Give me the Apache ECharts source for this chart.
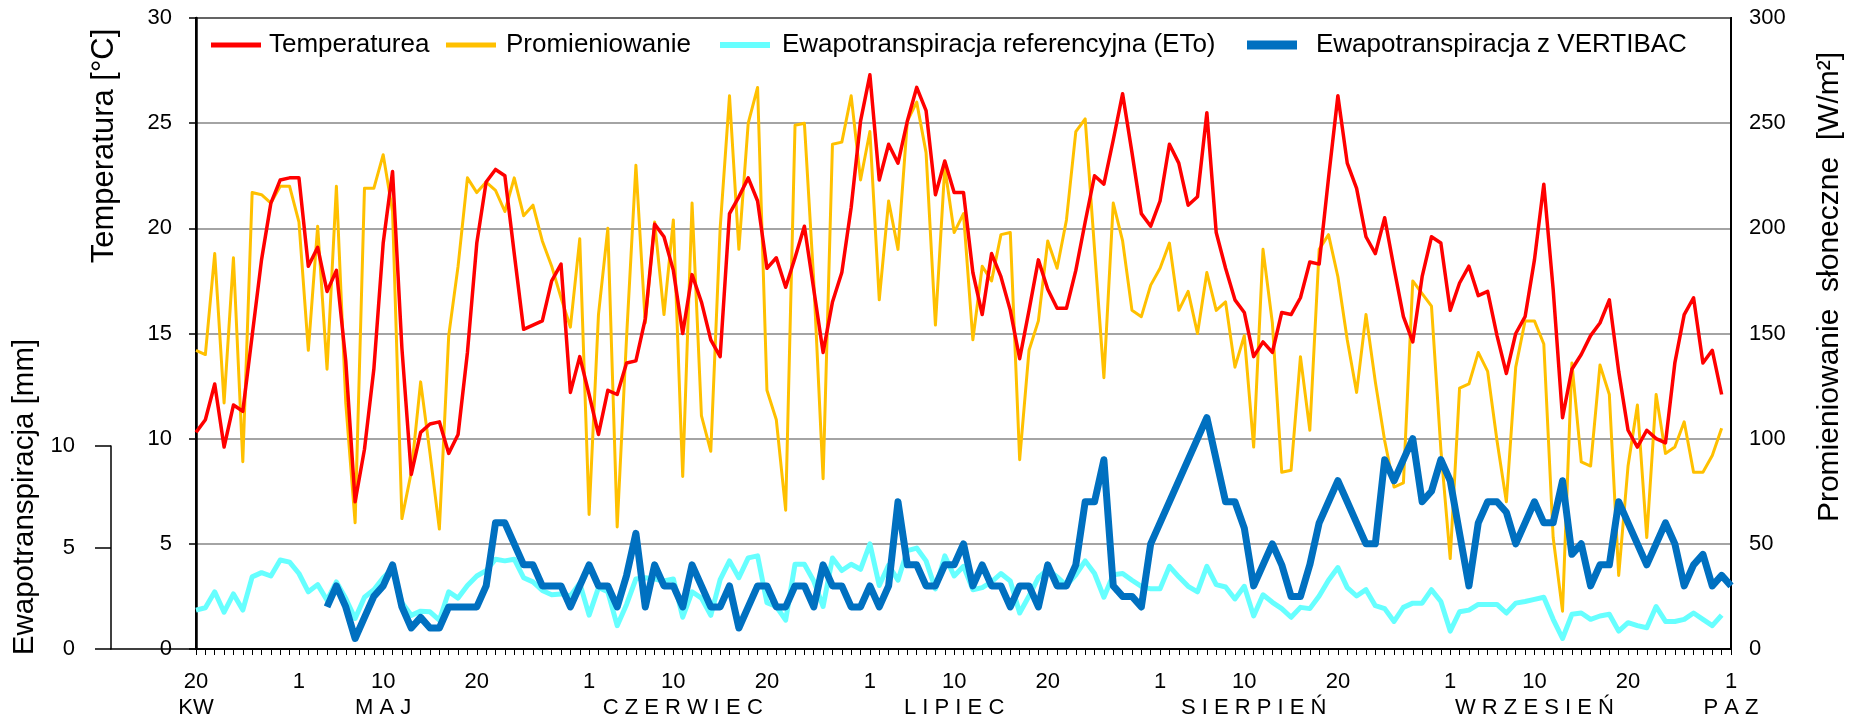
<!DOCTYPE html>
<html>
<head>
<meta charset="utf-8">
<script src="https://cdn.jsdelivr.net/npm/echarts@6/dist/echarts.min.js"></script>
<style>
html,body{margin:0;padding:0;background:#fff;}
#chart{width:1857px;height:724px;}
</style>
</head>
<body>
<div id="chart"></div>
<script>
// ---- DATA ----
// months covered: [month, first day, last day]
const monthSpans = [['04',20,30],['05',1,31],['06',1,30],['07',1,31],['08',1,31],['09',1,30],['10',1,1]];
const dayTickLabels = [1, 10, 20];
const monthNames = ['KW', 'M A J', 'C Z E R W I E C', 'L I P I E C', 'S I E R P I E Ń', 'W R Z E S I E Ń', 'P A Z'];
const monthLabelIndex = [0, 20, 52, 81, 113, 143, 164];
const seriesNames = ['Temperaturea', 'Promieniowanie', 'Ewapotranspiracja referencyjna (ETo)', 'Ewapotranspiracja z VERTIBAC'];

// Temperature [°C], daily from 20 Apr
const temperature = [
 10.3,10.9,12.6,9.6,11.6,11.3,14.9,18.5,21.2,22.3,
 22.4,22.4,18.2,19.1,17.0,18.0,13.7,7.0,9.5,13.3,
 19.3,22.7,14.3,8.3,10.3,10.7,10.8,9.3,10.2,14.1,
 19.3,22.2,22.8,22.5,18.8,15.2,15.4,15.6,17.5,18.3,
 12.2,13.9,12.1,10.2,12.3,12.1,13.6,13.7,15.7,20.2,
 19.6,18.0,15.0,17.8,16.5,14.7,13.9,20.7,21.5,22.4,
 21.3,18.1,18.6,17.2,18.6,20.1,17.1,14.1,16.5,17.9,
 21.0,25.1,27.3,22.3,24.0,23.1,25.1,26.7,25.6,21.6,
 23.2,21.7,21.7,17.9,15.9,18.8,17.7,16.1,13.8,16.1,
 18.5,17.1,16.2,16.2,18.0,20.3,22.5,22.1,24.2,26.4,
 23.6,20.7,20.1,21.3,24.0,23.1,21.1,21.5,25.5,19.8,
 18.1,16.6,16.0,13.9,14.6,14.1,16.0,15.9,16.7,18.4,
 18.3,22.4,26.3,23.1,21.9,19.6,18.8,20.5,18.1,15.8,
 14.6,17.7,19.6,19.3,16.1,17.4,18.2,16.8,17.0,14.9,
 13.1,15.0,15.8,18.5,22.1,17.1,11.0,13.3,14.0,14.9,
 15.5,16.6,13.2,10.4,9.6,10.4,10.0,9.8,13.6,15.9,
 16.7,13.6,14.2,12.1
];
// Solar radiation [W/m2]
const radiation = [
 142,140,188,117,186,89,217,216,212,220,
 220,203,142,201,133,220,117,60,219,219,
 235,208,62,84,127,93,57,149,182,224,
 217,222,218,208,224,206,211,194,182,167,
 153,195,64,159,200,58,148,230,155,203,
 159,204,82,212,111,94,200,263,190,250,
 267,123,109,66,249,250,175,81,240,241,
 263,223,246,166,213,190,251,260,236,154,
 229,198,207,147,182,175,197,198,90,142,
 156,194,181,204,246,252,190,129,212,194,
 161,158,173,181,193,161,170,150,179,161,
 165,134,149,96,190,155,84,85,139,104,
 190,197,177,147,122,159,127,99,77,79,
 175,169,163,95,43,124,126,141,132,99,
 70,134,156,156,145,53,18,136,89,87,
 135,121,35,87,116,53,121,93,96,108,
 84,84,92,105
];
// Reference evapotranspiration ETo [mm]
const eto = [
 1.85,1.96,2.72,1.75,2.62,1.85,3.43,3.63,3.47,4.23,
 4.13,3.59,2.72,3.06,2.32,3.19,2.4,1.45,2.46,2.82,
 3.39,3.83,2.2,1.6,1.8,1.77,1.37,2.72,2.42,3.02,
 3.47,3.73,4.27,4.19,4.27,3.39,3.19,2.78,2.58,2.62,
 2.52,3.13,1.61,2.92,2.72,1.11,2.12,3.33,3.39,3.33,
 3.23,3.33,1.51,2.72,2.42,1.6,3.3,4.19,3.39,4.33,
 4.43,2.2,2.02,1.37,4.03,4.03,3.23,2.02,4.33,3.73,
 4.03,3.79,5.0,3.02,3.99,3.27,4.68,4.8,4.19,2.86,
 4.43,3.47,3.93,2.82,2.92,3.19,3.59,3.23,1.71,2.52,
 3.39,3.79,3.43,3.02,3.53,4.19,3.59,2.46,3.53,3.59,
 3.27,2.98,2.86,2.86,3.93,3.43,2.98,2.72,3.93,3.06,
 2.95,2.38,2.98,1.57,2.58,2.22,1.92,1.51,1.98,1.92,
 2.52,3.27,3.87,2.92,2.52,2.82,2.06,1.92,1.31,1.98,
 2.18,2.18,2.82,2.26,0.85,1.77,1.85,2.12,2.12,2.12,
 1.71,2.18,2.26,2.36,2.46,1.41,0.5,1.65,1.71,1.41,
 1.57,1.65,0.85,1.25,1.11,1.01,2.02,1.31,1.31,1.41,
 1.71,1.41,1.11,1.61
];
// Evapotranspiration measured with VERTIBAC [mm]
const vertibac = [
 null,null,null,null,null,null,null,null,null,null,
 null,null,null,null,2,3,2,0.5,1.5,2.5,
 3,4,2,1,1.5,1,1,2,2,2,
 2,3,6,6,5,4,4,3,3,3,
 2,3,4,3,3,2,3.5,5.5,2,4,
 3,3,2,4,3,2,2,3,1,2,
 3,3,2,2,3,3,2,4,3,3,
 2,2,3,2,3,7,4,4,3,3,
 4,4,5,3,4,3,3,2,3,3,
 2,4,3,3,4,7,7,9,3,2.5,
 2.5,2,5,null,null,null,null,null,11,null,
 7,7,5.75,3,4,5,4,2.5,2.5,4,
 6,7,8,7,6,5,5,9,8,9,
 10,7,7.5,9,8,5.5,3,6,7,7,
 6.5,5,6,7,6,6,8,4.5,5,3,
 4,4,7,6,5,4,5,6,5,3,
 4,4.5,3,3.5,3
];

// ---- build categories ----
const categories = [];
monthSpans.forEach(([m, a, b]) => { for (let d = a; d <= b; d++) categories.push(d + '.' + m); });
const dayOf = v => parseInt(String(v).split('.')[0], 10);

const FONT = '"Liberation Sans", Arial, sans-serif';
const chart = echarts.init(document.getElementById('chart'), null, {renderer: 'canvas'});

function legendAt(name, left, h, pad) {
  return {
    data: [name], left: left, top: 32, padding: 0, icon: 'rect',
    itemWidth: 50, itemHeight: h, itemGap: 0,
    textStyle: {fontFamily: FONT, fontSize: 26, color: '#000', padding: [0, 0, 0, pad]}
  };
}
function vText(text, x, y, size) {
  return {type: 'text', x: x, y: y, rotation: Math.PI / 2,
    style: {text: text, fontSize: size, fontFamily: FONT, fill: '#000', align: 'center', verticalAlign: 'middle', textAlign: 'center', textVerticalAlign: 'middle'}};
}

const option = {
  animation: false,
  backgroundColor: '#fff',
  textStyle: {fontFamily: FONT},
  grid: [
    {left: 196, right: 126, top: 18, bottom: 75, show: true, borderColor: '#000', borderWidth: 2, backgroundColor: 'transparent'},
    {left: 111, width: 85, top: 446, height: 203}
  ],
  legend: [
    legendAt(seriesNames[0], 211, 5, 3),
    legendAt(seriesNames[1], 446, 5, 5),
    legendAt(seriesNames[2], 720, 6, 7),
    legendAt(seriesNames[3], 1247, 9, 14)
  ],
  xAxis: [
    {
      type: 'category', gridIndex: 0, data: categories, boundaryGap: false,
      axisLine: {lineStyle: {color: '#000', width: 2}},
      axisTick: {show: true, interval: 0, length: 6, lineStyle: {color: '#000', width: 1}},
      axisLabel: {
        interval: (i, v) => dayTickLabels.indexOf(dayOf(v)) >= 0,
        formatter: v => String(dayOf(v)),
        fontSize: 22, color: '#000', margin: 22, fontFamily: FONT
      },
      splitLine: {show: false}
    },
    {
      type: 'category', gridIndex: 0, data: categories, boundaryGap: false, position: 'bottom',
      axisLine: {show: false}, axisTick: {show: false}, splitLine: {show: false},
      axisLabel: {
        interval: (i) => monthLabelIndex.indexOf(i) >= 0,
        formatter: (v, i) => { const k = monthLabelIndex.indexOf(i); return k >= 0 ? monthNames[k] : ''; },
        fontSize: 22, color: '#000', margin: 48, fontFamily: FONT
      }
    },
    {
      type: 'value', gridIndex: 1, min: 0, max: 1,
      axisLine: {show: true, lineStyle: {color: '#000', width: 1.5}},
      axisTick: {show: false}, axisLabel: {show: false}, splitLine: {show: false}
    }
  ],
  yAxis: [
    {
      type: 'value', gridIndex: 0, min: 0, max: 30, interval: 5, position: 'left',
      axisLine: {show: true, lineStyle: {color: '#000', width: 2.5}},
      axisTick: {show: true, length: 7, lineStyle: {color: '#000', width: 1.5}},
      axisLabel: {fontSize: 22, color: '#000', margin: 24, fontFamily: FONT},
      splitLine: {show: true, lineStyle: {color: '#868686', width: 1.5}}
    },
    {
      type: 'value', gridIndex: 0, min: 0, max: 300, interval: 50, position: 'right',
      axisLine: {show: true, lineStyle: {color: '#000', width: 2}},
      axisTick: {show: false},
      axisLabel: {fontSize: 22, color: '#000', margin: 18, fontFamily: FONT},
      splitLine: {show: false}
    },
    {
      type: 'value', gridIndex: 1, min: 0, max: 10, interval: 5, position: 'left',
      axisLine: {show: true, lineStyle: {color: '#000', width: 1.5}},
      axisTick: {show: true, length: 16, lineStyle: {color: '#000', width: 1.5}},
      axisLabel: {fontSize: 22, color: '#000', margin: 36, fontFamily: FONT},
      splitLine: {show: false}
    }
  ],
  series: [
    {name: seriesNames[1], type: 'line', xAxisIndex: 0, yAxisIndex: 1, data: radiation, symbol: 'none',
     color: '#FFC000', lineStyle: {width: 3, join: 'round'}, z: 2},
    {name: seriesNames[0], type: 'line', xAxisIndex: 0, yAxisIndex: 0, data: temperature, symbol: 'none',
     color: '#FF0000', lineStyle: {width: 3.5, join: 'round'}, z: 3},
    {name: seriesNames[2], type: 'line', xAxisIndex: 0, yAxisIndex: 0, data: eto, symbol: 'none',
     color: '#66FFFF', lineStyle: {width: 5, join: 'round'}, z: 4},
    {name: seriesNames[3], type: 'line', xAxisIndex: 0, yAxisIndex: 0, data: vertibac, symbol: 'none', connectNulls: true,
     color: '#0070C0', lineStyle: {width: 7, join: 'round'}, z: 5}
  ],
  graphic: [
    vText('Temperatura [°C]', 104, 146, 31),
    vText('Ewapotranspiracja [mm]', 25, 497, 29.5),
    vText('Promieniowanie  słoneczne  [W/m²]', 1830, 287, 30)
  ]
};
chart.setOption(option);
</script>
</body>
</html>
